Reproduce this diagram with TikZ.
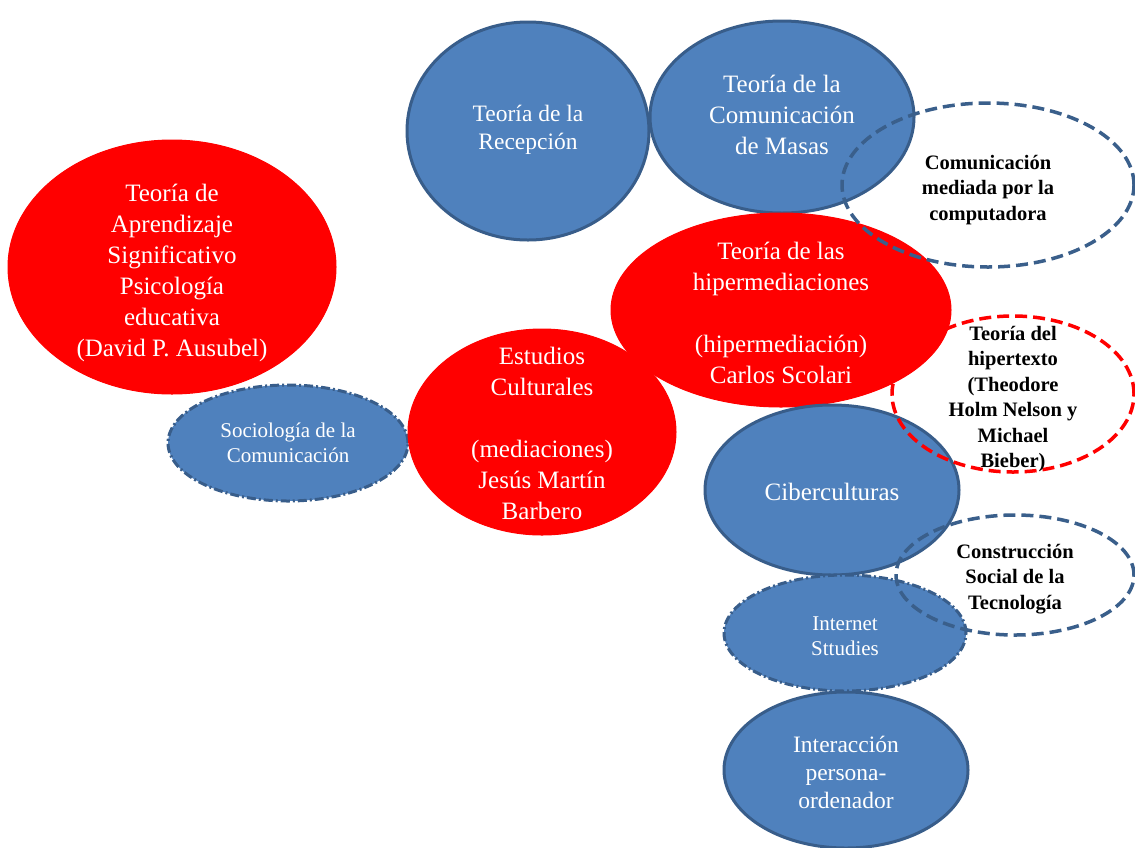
\documentclass[tikz,border=0pt]{standalone}
\usepackage{fontspec}
\setmainfont{Liberation Serif}
\usetikzlibrary{shapes.geometric}
\definecolor{bfill}{HTML}{4F81BD}
\definecolor{bdraw}{HTML}{385D8A}
\definecolor{dblue}{HTML}{3A5F8B}
\begin{document}
\begin{tikzpicture}[x=1pt,y=-1pt,
  ell/.style={ellipse,inner sep=0pt},
  txt/.style={align=center,inner sep=0pt},
  redE/.style={ell,fill=red,draw=red,line width=1pt},
  blueE/.style={ell,fill=bfill,draw=bdraw,line width=3pt},
  dotblueE/.style={ell,fill=bfill,draw=bdraw,line width=3pt,dash pattern=on 9pt off 3pt on 2pt off 3pt},
  dashblueE/.style={ell,draw=dblue,line width=3.5pt,dash pattern=on 12pt off 6pt},
  dashredE/.style={ell,draw=red,line width=3.5pt,dash pattern=on 12pt off 6pt},
  wtxt/.style={txt,text=white},
  btxt/.style={txt,text=black,font=\fontsize{20.5}{25.5}\selectfont\bfseries},
  big/.style={font=\fontsize{25}{31}\selectfont},
  mid/.style={font=\fontsize{23.5}{28}\selectfont},
  small/.style={font=\fontsize{21}{25}\selectfont}]
\useasboundingbox (0,0) rectangle (1135,847);
\fill[white] (0,0) rectangle (1135,847);
% shapes
\node[redE,minimum width=328pt,minimum height=254pt] (apr) at (172,267) {};
\node[dotblueE,minimum width=240pt,minimum height=116pt] (soc) at (288,443) {};
\node[blueE,minimum width=242pt,minimum height=218pt] (rec) at (528,131) {};
\node[blueE,minimum width=264pt,minimum height=192pt] (mas) at (782,117) {};
\node[redE,minimum width=340pt,minimum height=194pt] (hip) at (781,310) {};
\node[redE,minimum width=268pt,minimum height=206pt] (est) at (542,432) {};
\node[blueE,minimum width=254pt,minimum height=170pt] (cib) at (832,490) {};
\node[blueE,minimum width=244pt,minimum height=156pt] (int) at (846,770) {};
\node[dotblueE,minimum width=242pt,minimum height=116pt] (net) at (845,633) {};
\node[dashblueE,minimum width=292pt,minimum height=164pt] (cmc) at (988,185) {};
\node[dashredE,minimum width=242pt,minimum height=156pt] (hpt) at (1013,394) {};
\node[dashblueE,minimum width=238pt,minimum height=120pt] (cst) at (1015,575) {};
% texts
\node[wtxt,big] (apr-t) at ([yshift=-6pt]apr.center)
  {Teoría de\\Aprendizaje\\Significativo\\Psicología\\educativa\\(David P. Ausubel)};
\node[wtxt,small] (soc-t) at (soc.center) {Sociología de la\\Comunicación};
\node[wtxt,mid] (rec-t) at ([yshift=1pt]rec.center) {Teoría de la\\Recepción};
\node[wtxt,big] (mas-t) at ([yshift=2pt]mas.center) {Teoría de la\\Comunicación\\de Masas};
\node[wtxt,big] (hip-t) at ([yshift=-3pt]hip.center)
  {Teoría de las\\hipermediaciones\\[31pt](hipermediación)\\Carlos Scolari};
\node[wtxt,big] (est-t) at ([yshift=-1pt]est.center)
  {Estudios\\Culturales\\[31pt](mediaciones)\\Jesús Martín\\Barbero};
\node[wtxt,big] (cib-t) at ([yshift=-2pt]cib.center) {Ciberculturas};
\node[wtxt,mid] (int-t) at ([yshift=-2pt]int.center) {Interacción\\persona-\\ordenador};
\node[wtxt,small] (net-t) at ([yshift=-3pt]net.center) {Internet\\Sttudies};
\node[btxt] (cmc-t) at ([yshift=-5pt]cmc.center) {Comunicación\\mediada por la\\computadora};
\node[btxt] (hpt-t) at ([yshift=-5pt]hpt.center)
  {Teoría del\\hipertexto\\(Theodore\\Holm Nelson y\\Michael\\Bieber)};
\node[btxt] (cst-t) at ([yshift=-4pt]cst.center) {Construcción\\Social de la\\Tecnología};
\end{tikzpicture}
\end{document}
